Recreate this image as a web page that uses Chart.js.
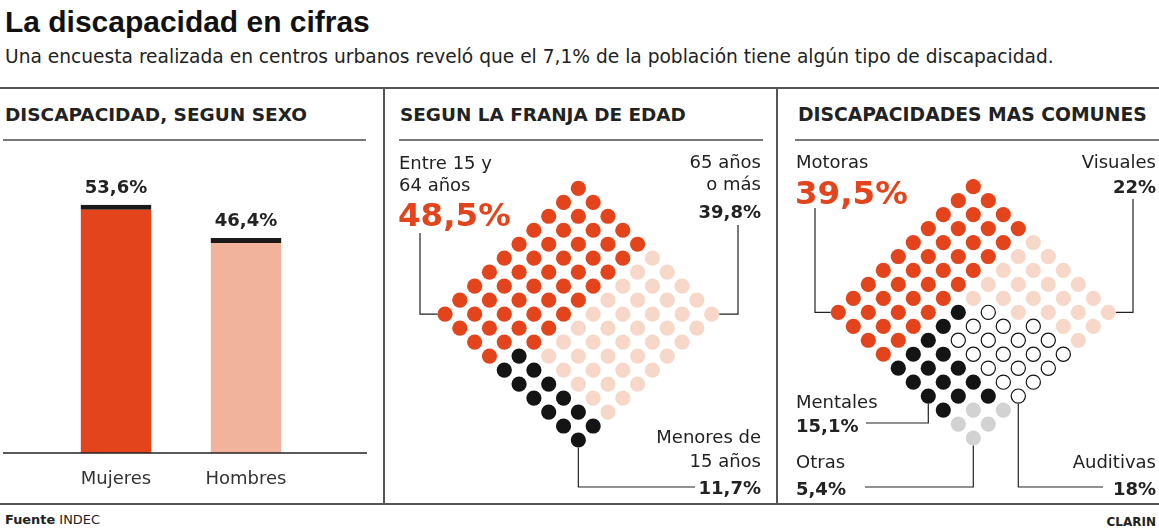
<!DOCTYPE html>
<html>
<head>
<meta charset="utf-8">
<script src="https://cdn.jsdelivr.net/npm/chart.js"></script>
<style>
  body { margin: 0; background: #fff; }
  #page { position: relative; width: 1159px; height: 530px; overflow: hidden; background: #fff; }
  canvas { position: absolute; }
  .rule { position: absolute; background: #555; }
</style>
</head>
<body>
<div id="page"></div>
<script>
// ---------------------------------------------------------------------------
// data
// ---------------------------------------------------------------------------
const sexLabels = ['Mujeres', 'Hombres'];
const sexValues = [53.6, 46.4];

const ageLabels = [['Entre 15 y', '64 años'], ['65 años', 'o más'], ['Menores de', '15 años']];
const ageValues = [48.5, 39.8, 11.7];

const typeLabels = ['Motoras', 'Visuales', 'Mentales', 'Auditivas', 'Otras'];
const typeValues = [39.5, 22, 15.1, 18, 5.4];

// waffle layout: 10x10 cells (row i, col j) -> category index, one dot = 1%
const ageGrid = [
  '0000011111', '0000011111', '0000011111', '0000011111', '0000011111',
  '0000011111', '0000011111', '0000011111', '0000222222', '0000222222'
];
const typeGrid = [
  '0000111111', '0000111111', '0000111111', '0000111333', '0000133333',
  '0000233333', '0000233333', '0000222224', '0000222244', '0000222244'
];

const RED = '#e3441b';
const sexColors  = [RED, '#f2b39c'];
const ageColors  = [RED, '#f7d7c8', '#141414'];
const typeColors = [RED, '#f7d7c8', '#141414', '#ffffff', '#d2d2d2'];

const pct = v => v.toString().replace('.', ',') + '%';

Chart.defaults.font.family = 'DejaVu Sans';
Chart.defaults.color = '#333';

const page = document.getElementById('page');

//-----------------------------------------------------------------------------
// helpers for text, rules and canvases
//-----------------------------------------------------------------------------
function addText(html, x, base, o) {
  const d = document.createElement('div');
  d.innerHTML = html;
  d.style.cssText = `position:absolute;white-space:nowrap;line-height:1;` +
    `font-family:${o.family || "'DejaVu Sans'"};font-size:${o.size}px;` +
    `font-weight:${o.bold ? 'bold' : 'normal'};color:${o.color || '#222'}`;
  page.appendChild(d);
  let size = o.size;
  if (o.fit) {
    size = size * o.fit / d.getBoundingClientRect().width;
    d.style.fontSize = size + 'px';
  }
  d.style.top = (base - 0.846 * size) + 'px';
  if (o.right) d.style.right = (1159 - x) + 'px';
  else d.style.left = x + 'px';
}

function addRule(x, y, w, h, color) {
  const r = document.createElement('div');
  r.className = 'rule';
  r.style.cssText += `left:${x}px;top:${y}px;width:${w}px;height:${h}px;` + (color ? `background:${color}` : '');
  page.appendChild(r);
}

function makeCanvas(x, y, w, h) {
  const c = document.createElement('canvas');
  c.width = w; c.height = h;
  c.style.left = x + 'px'; c.style.top = y + 'px';
  page.appendChild(c);
  return c;
}

//-----------------------------------------------------------------------------
// titles, frame
//-----------------------------------------------------------------------------
addText('La discapacidad en cifras', 5, 32, { size: 30, bold: true, family: "'Liberation Sans'", color: '#111', fit: 365 });
addText('Una encuesta realizada en centros urbanos reveló que el 7,1% de la población tiene algún tipo de discapacidad.',
  5, 64, { size: 18, color: '#222', fit: 1050 });

addRule(0, 87, 1159, 2);
addRule(0, 503, 1159, 2);
addRule(383, 87, 2, 418);
addRule(776, 87, 2, 418);

addText('DISCAPACIDAD, SEGUN SEXO', 5, 122, { size: 17, bold: true, fit: 302 });
addText('SEGUN LA FRANJA DE EDAD', 400, 122, { size: 17, bold: true, fit: 286 });
addText('DISCAPACIDADES MAS COMUNES', 798, 122, { size: 17, bold: true, fit: 349 });
addRule(3, 139, 363, 1.5, '#777');
addRule(399, 139, 364, 1.5, '#777');
addRule(795, 139, 364, 1.5, '#777');

addText('<b>Fuente</b> INDEC', 5, 525, { size: 12.5, color: '#222', fit: 95 });
addText('CLARIN', 1156, 526, { size: 12, bold: true, color: '#222', right: true });

//-----------------------------------------------------------------------------
// bar chart: by sex
//-----------------------------------------------------------------------------
const barExtras = {
  id: 'barExtras',
  afterDatasetsDraw(chart) {
    const ctx = chart.ctx;
    ctx.save();
    // baseline that runs wider than the chart area
    ctx.strokeStyle = '#222';
    ctx.lineWidth = 1.5;
    ctx.beginPath();
    ctx.moveTo(3, chart.chartArea.bottom);
    ctx.lineTo(367, chart.chartArea.bottom);
    ctx.stroke();
    // value labels above the bars
    ctx.font = 'bold 18px "DejaVu Sans"';
    ctx.fillStyle = '#222';
    ctx.textAlign = 'center';
    chart.getDatasetMeta(0).data.forEach((bar, i) => {
      ctx.fillText(pct(sexValues[i]), bar.x, bar.y - 12);
    });
    ctx.restore();
  }
};

new Chart(makeCanvas(0, 140, 384, 362), {
  type: 'bar',
  data: {
    labels: sexLabels,
    datasets: [{
      data: sexValues,
      backgroundColor: sexColors,
      borderColor: '#1a1a1a',
      borderWidth: { top: 5, left: 0, right: 0, bottom: 0 },
      borderSkipped: 'bottom',
      inflateAmount: 0,
      barPercentage: 0.545,
      categoryPercentage: 1
    }]
  },
  options: {
    responsive: false,
    animation: false,
    layout: { padding: { left: 51, right: 73, top: 35, bottom: 0 } },
    plugins: { legend: { display: false }, tooltip: { enabled: false } },
    scales: {
      x: {
        grid: { display: false, drawTicks: false },
        border: { display: false },
        ticks: { font: { size: 18 }, color: '#333', padding: 16 },
        afterFit: s => { s.height = 49; }
      },
      y: { display: false, min: 0, max: 60 }
    }
  },
  plugins: [barExtras]
});

//-----------------------------------------------------------------------------
// diamond waffles
//-----------------------------------------------------------------------------
function waffle(grid, colors, radius) {
  return colors.map((color, k) => {
    const pts = [];
    grid.forEach((row, i) => {
      row.split('').forEach((c, j) => {
        if (+c === k) pts.push({ x: j - i, y: i + j });
      });
    });
    const white = color === '#ffffff';
    return {
      data: pts,
      backgroundColor: color,
      borderColor: white ? '#111' : color,
      borderWidth: white ? 1.2 : 0,
      pointRadius: white ? radius - 0.5 : radius,
      clip: false
    };
  });
}

function drawDiamond(box, grid, colors, radius, pad, leaders) {
  const [left, top, w, h] = box;
  const leaderPlugin = {
    id: 'leaders',
    afterDraw(chart) {
      const sx = chart.scales.x, sy = chart.scales.y;
      // page position of cell (i, j)
      const p = (i, j) => ({ x: left + sx.getPixelForValue(j - i), y: top + sy.getPixelForValue(i + j) });
      const ctx = chart.ctx;
      ctx.save();
      ctx.strokeStyle = '#222';
      ctx.lineWidth = 1.2;
      leaders(p, radius).forEach(line => {
        ctx.beginPath();
        line.forEach(([x, y], n) => n ? ctx.lineTo(x - left, y - top) : ctx.moveTo(x - left, y - top));
        ctx.stroke();
      });
      ctx.restore();
    }
  };
  new Chart(makeCanvas(left, top, w, h), {
    type: 'scatter',
    data: { datasets: waffle(grid, colors, radius) },
    options: {
      responsive: false,
      animation: false,
      layout: { padding: pad },
      plugins: { legend: { display: false }, tooltip: { enabled: false } },
      scales: {
        x: { display: false, min: -9, max: 9 },
        y: { display: false, min: 0, max: 18, reverse: true }
      }
    },
    plugins: [leaderPlugin]
  });
}

// age band
drawDiamond([385, 140, 391, 362], ageGrid, ageColors, 7.6,
  { left: 60, right: 64.3, top: 48.3, bottom: 62 },
  (p, r) => [
    [[420, 233], [420, p(9, 0).y], [p(9, 0).x - r, p(9, 0).y]],
    [[738, 225], [738, p(0, 9).y], [p(0, 9).x + r, p(0, 9).y]],
    [[p(9, 9).x, p(9, 9).y + r], [p(9, 9).x, 487], [695, 487]]
  ]);

addText(ageLabels[0][0], 399, 169, { size: 18 });
addText(ageLabels[0][1], 399, 191, { size: 18 });
addText(pct(ageValues[0]), 398, 226, { size: 32.5, bold: true, color: RED });
addText(ageLabels[1][0], 761, 168, { size: 18, right: true });
addText(ageLabels[1][1], 761, 190, { size: 18, right: true });
addText(pct(ageValues[1]), 761, 218, { size: 18, bold: true, right: true });
addText(ageLabels[2][0], 761, 443, { size: 18, right: true });
addText(ageLabels[2][1], 761, 467, { size: 18, right: true });
addText(pct(ageValues[2]), 761, 494, { size: 18, bold: true, right: true });

// most common types
drawDiamond([778, 140, 381, 362], typeGrid, typeColors, 7.6,
  { left: 60.3, right: 50.7, top: 46.7, bottom: 64 },
  (p, r) => [
    [[815, 208], [815, p(9, 0).y], [p(9, 0).x - r, p(9, 0).y]],
    [[1133, 199], [1133, p(0, 9).y], [p(0, 9).x + r, p(0, 9).y]],
    [[866, 423], [p(9, 6).x, 423], [p(9, 6).x, p(9, 6).y + r]],
    [[865, 487], [p(9, 9).x, 487], [p(9, 9).x, p(9, 9).y + r]],
    [[1103, 487], [p(6, 9).x, 487], [p(6, 9).x, p(6, 9).y + r]]
  ]);

addText(typeLabels[0], 796, 168, { size: 18 });
addText(pct(typeValues[0]), 795, 204, { size: 32.5, bold: true, color: RED });
addText(typeLabels[1], 1156, 168, { size: 18, right: true });
addText(pct(typeValues[1]), 1156, 193, { size: 18, bold: true, right: true });
addText(typeLabels[2], 796, 408, { size: 18 });
addText(pct(typeValues[2]), 796, 432, { size: 18, bold: true });
addText(typeLabels[4], 796, 468, { size: 18 });
addText(pct(typeValues[4]), 796, 495, { size: 18, bold: true });
addText(typeLabels[3], 1156, 468, { size: 18, right: true });
addText(pct(typeValues[3]), 1156, 495, { size: 18, bold: true, right: true });
</script>
</body>
</html>
